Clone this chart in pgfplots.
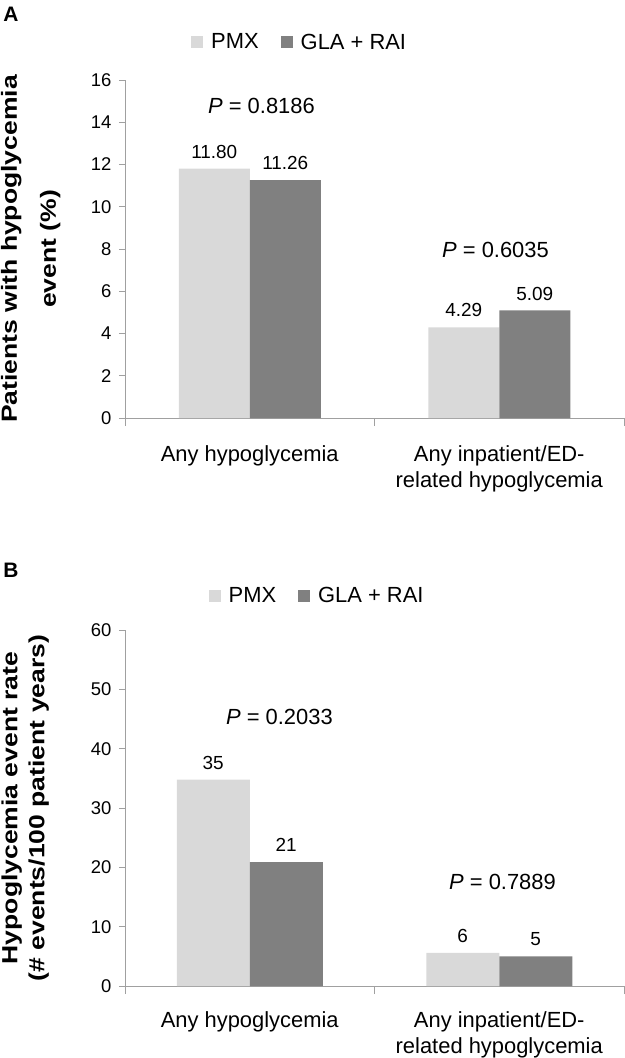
\documentclass[border=0pt]{standalone}
\usepackage{fontspec}
\setmainfont{Liberation Sans}
\usepackage{graphicx}
\usepackage{pgfplots}
\pgfplotsset{compat=1.18}
\definecolor{lightbar}{HTML}{D9D9D9}
\definecolor{darkbar}{HTML}{808080}
\definecolor{axisgray}{HTML}{A0A0A0}
\newcommand{\st}[1]{\scalebox{1.21}[1]{#1}}
\pgfplotsset{
  mybars/.style={
    scale only axis,
    width=499bp,
    axis lines*=left,
    axis line style={axisgray, line width=1bp},
    tick style={axisgray, line width=1bp},
    tick align=outside,
    xmin=-0.5, xmax=1.5,
    enlarge x limits=false,
    ymin=0,
    xtick={0,1},
    xticklabels={Any hypoglycemia, Any inpatient/ED-\\related hypoglycemia},
    major x tick style={draw=none},
    minor xtick={-0.5,0.5,1.5},
    minor tick length=8bp,
    major tick length=6bp,
    xticklabel style={align=center, font=\fontsize{22}{26}\selectfont, yshift=-18bp, text depth=0pt},
    yticklabel style={font=\fontsize{18.5}{20}\selectfont, xshift=-4bp},
    /pgf/number format/assume math mode=true,
    ylabel style={anchor=center, align=center},
    ybar=0pt,
    point meta=explicit symbolic,
    nodes near coords,
    every node near coord/.append style={font=\fontsize{19}{22}\selectfont, inner sep=0pt, yshift=10bp, black},
    legend columns=2,
    legend style={draw=none, fill=none, font=\fontsize{22}{26}\selectfont, anchor=center,
      /tikz/every odd column/.append style={column sep=6bp},
      /tikz/every even column/.append style={column sep=20bp}},
    clip=false,
  },
  sq/.style={legend image code/.code={\fill[#1] (0bp,-6bp) rectangle (12bp,6bp);}},
}
\begin{document}
\begin{tikzpicture}
\path[use as bounding box] (0,0) rectangle (625bp,-1058bp);
% Panel labels
\node[font=\bfseries\fontsize{21}{24}\selectfont] at (11bp,-14bp) {A};
\node[font=\bfseries\fontsize{21}{24}\selectfont] at (11bp,-570bp) {B};
% Panel A
\begin{axis}[mybars,
  at={(125bp,-418bp)}, anchor=south west,
  height=338bp, ymax=16, ytick={0,2,...,16},
  bar width=71bp,
  ylabel={\st{Patients with hypoglycemia}\\\st{event (\%)}},
  ylabel style={at={(axis description cs:-0.189,0.5)}, font=\bfseries\fontsize{22}{39}\selectfont},
  legend style={at={(axis description cs:0.35,1.112)}},
]
\addplot[fill=lightbar, draw=none, sq] coordinates {(0,11.80) [11.80] (1,4.29) [4.29]};
\addplot[fill=darkbar, draw=none, sq] coordinates {(0,11.26) [11.26] (1,5.09) [5.09]};
\legend{PMX, GLA + RAI}
\node[font=\fontsize{22}{26}\selectfont] at (axis cs:0.047,14.77) {\textit{P} = 0.8186};
\node[font=\fontsize{22}{26}\selectfont] at (axis cs:0.985,7.95) {\textit{P} = 0.6035};
\end{axis}
% Panel B
\begin{axis}[mybars,
  at={(125bp,-986bp)}, anchor=south west,
  height=356bp, ymax=60, ytick={0,10,...,60},
  bar width=73bp,
  xticklabel style={yshift=2bp},
  ylabel={\st{Hypoglycemia event rate}\\\st{(\# events/100 patient years)}},
  ylabel style={at={(axis description cs:-0.2,0.5)}, font=\bfseries\fontsize{22}{27}\selectfont},
  legend style={at={(axis description cs:0.385,1.0955)}},
]
\addplot[fill=lightbar, draw=none, sq] coordinates {(0,34.8) [35] (1,5.6) [6]};
\addplot[fill=darkbar, draw=none, sq] coordinates {(0,20.9) [21] (1,5.0) [5]};
\legend{PMX, GLA + RAI}
\node[font=\fontsize{22}{26}\selectfont] at (axis cs:0.119,45.4) {\textit{P} = 0.2033};
\node[font=\fontsize{22}{26}\selectfont] at (axis cs:1.013,17.5) {\textit{P} = 0.7889};
\end{axis}
\end{tikzpicture}
\end{document}
